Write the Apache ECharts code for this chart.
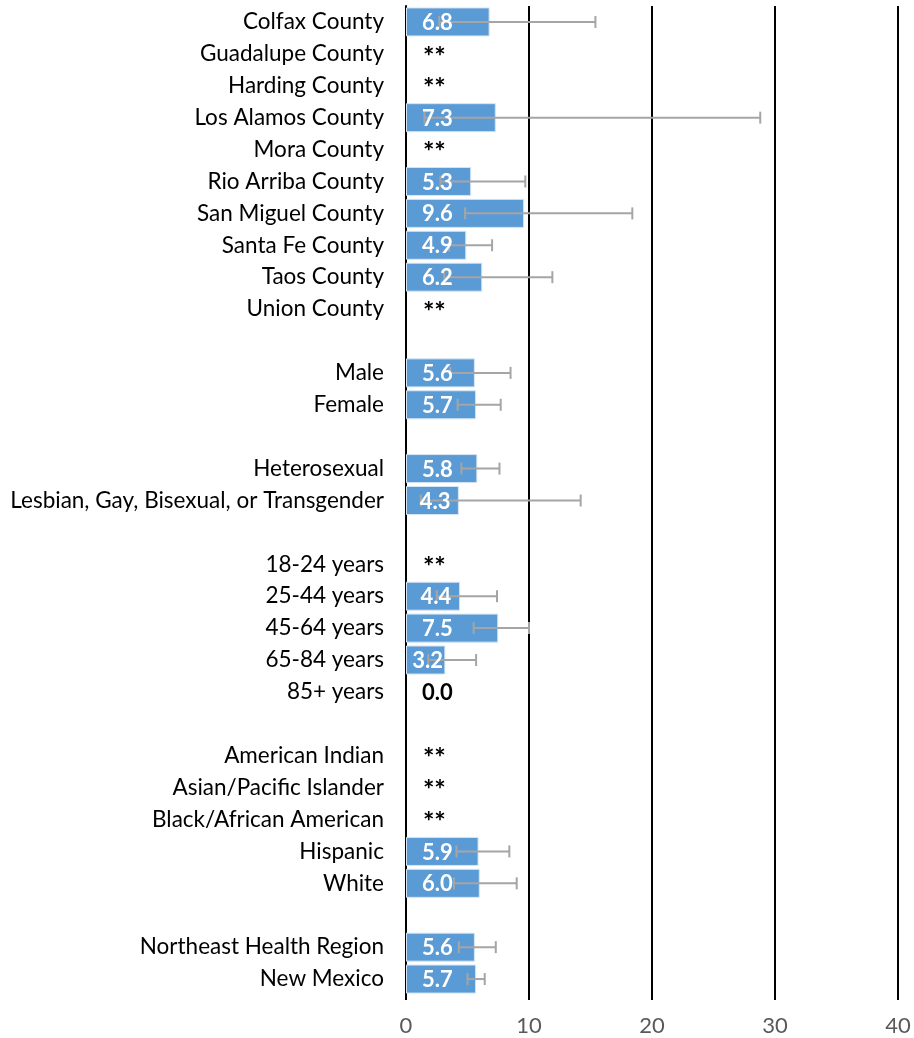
<!DOCTYPE html>
<html>
<head>
<meta charset="utf-8">
<script src="https://cdn.jsdelivr.net/npm/echarts@6/dist/echarts.min.js"></script>
<style>
  html, body { margin: 0; padding: 0; background: #fff; }
  #chart { width: 914px; height: 1038px; }
</style>
</head>
<body>
<div id="chart"></div>
<script>
// rows top to bottom, blank rows separate the groups
var categories = [
    'Colfax County', 'Guadalupe County', 'Harding County', 'Los Alamos County', 'Mora County',
    'Rio Arriba County', 'San Miguel County', 'Santa Fe County', 'Taos County', 'Union County',
    ' ',
    'Male', 'Female',
    '  ',
    'Heterosexual', 'Lesbian, Gay, Bisexual, or Transgender',
    '   ',
    '18-24 years', '25-44 years', '45-64 years', '65-84 years', '85+ years',
    '    ',
    'American Indian', 'Asian/Pacific Islander', 'Black/African American', 'Hispanic', 'White',
    '     ',
    'Northeast Health Region', 'New Mexico'
];
// '**' rows are suppressed -> null ; blank rows -> '-'
var rates = [
    6.8, null, null, 7.3, null, 5.3, 9.6, 4.9, 6.2, null,
    '-',
    5.6, 5.7,
    '-',
    5.8, 4.3,
    '-',
    null, 4.4, 7.5, 3.2, 0.0,
    '-',
    null, null, null, 5.9, 6.0,
    '-',
    5.6, 5.7
];
var lower = [
    2.7, null, null, 1.5, null, 2.8, 4.8, 3.5, 3.1, null,
    null,
    3.6, 4.2,
    null,
    4.5, 1.2,
    null,
    null, 2.5, 5.5, 1.8, null,
    null,
    null, null, null, 4.1, 3.9,
    null,
    4.3, 5.0
];
var upper = [
    15.4, null, null, 28.8, null, 9.7, 18.4, 7.0, 11.9, null,
    null,
    8.5, 7.7,
    null,
    7.6, 14.2,
    null,
    null, 7.4, 10.0, 5.7, null,
    null,
    null, null, null, 8.4, 9.0,
    null,
    7.3, 6.4
];
var xTicks = [0, 10, 20, 30, 40];

var FONT = 'Lato';
var BLUE = '#5B9BD5';

var barData = rates.map(function (v) { return typeof v === 'number' && v > 0 ? v : '-'; });
var errData = categories.map(function (c, i) {
    return lower[i] == null ? [i, '-', '-'] : [i, lower[i], upper[i]];
});
var labelData = categories.map(function (c, i) {
    var v = rates[i];
    if (v === '-') return [i, '-', ''];
    if (v === null) return [i, 0, '**'];
    return [i, v, v.toFixed(1)];
});

var chart = echarts.init(document.getElementById('chart'));
chart.setOption({
    animation: false,
    grid: { left: 406, right: 16, top: 6, bottom: 43, containLabel: false },
    xAxis: {
        type: 'value',
        min: xTicks[0],
        max: xTicks[xTicks.length - 1],
        interval: 10,
        axisLine: { show: false },
        axisTick: { show: true, length: 5, lineStyle: { color: '#000', width: 2 } },
        splitLine: { show: true, lineStyle: { color: '#000', width: 2 } },
        axisLabel: { color: '#595959', fontFamily: FONT, fontSize: 22, margin: 20 }
    },
    yAxis: {
        type: 'category',
        inverse: true,
        data: categories,
        axisLine: { show: true, lineStyle: { color: '#000', width: 2 } },
        axisTick: { show: false },
        axisLabel: { color: '#000', fontFamily: FONT, fontSize: 22.5, margin: 22 }
    },
    series: [
        {
            type: 'bar',
            data: barData,
            barCategoryGap: '9%',
            itemStyle: { color: BLUE, borderColor: '#d6e6f5', borderWidth: 1 },
            z: 2
        },
        {
            type: 'custom',
            data: errData,
            encode: { y: 0, x: [1, 2] },
            z: 3,
            renderItem: function (params, api) {
                var lo = api.coord([api.value(1), api.value(0)]);
                var hi = api.coord([api.value(2), api.value(0)]);
                var cap = 6;
                var style = { stroke: '#A5A5A5', lineWidth: 2 };
                return {
                    type: 'group',
                    children: [
                        { type: 'line', shape: { x1: lo[0], y1: lo[1], x2: hi[0], y2: hi[1] }, style: style },
                        { type: 'line', shape: { x1: lo[0], y1: lo[1] - cap, x2: lo[0], y2: lo[1] + cap }, style: style },
                        { type: 'line', shape: { x1: hi[0], y1: hi[1] - cap, x2: hi[0], y2: hi[1] + cap }, style: style }
                    ]
                };
            }
        },
        {
            type: 'custom',
            data: labelData,
            encode: { y: 0, x: 1 },
            z: 4,
            renderItem: function (params, api) {
                var i = params.dataIndex;
                var d = labelData[i];
                if (!d[2]) return null;
                var v = typeof rates[i] === 'number' ? rates[i] : 0;
                var xv = v > 0 ? Math.min(2.55, v * 0.55) : 2.55;
                var pt = api.coord([xv, d[0]]);
                var onBar = v > 0;
                var stars = d[2] === '**';
                return {
                    type: 'text',
                    x: pt[0] - (stars ? 3 : 0),
                    y: pt[1] + (stars ? 3 : 1),
                    style: {
                        text: d[2],
                        fill: onBar ? '#fff' : '#000',
                        font: stars ? 'bold 27px ' + FONT : 'bold 22px ' + FONT,
                        align: 'center',
                        verticalAlign: 'middle'
                    }
                };
            }
        }
    ]
});
</script>
</body>
</html>
